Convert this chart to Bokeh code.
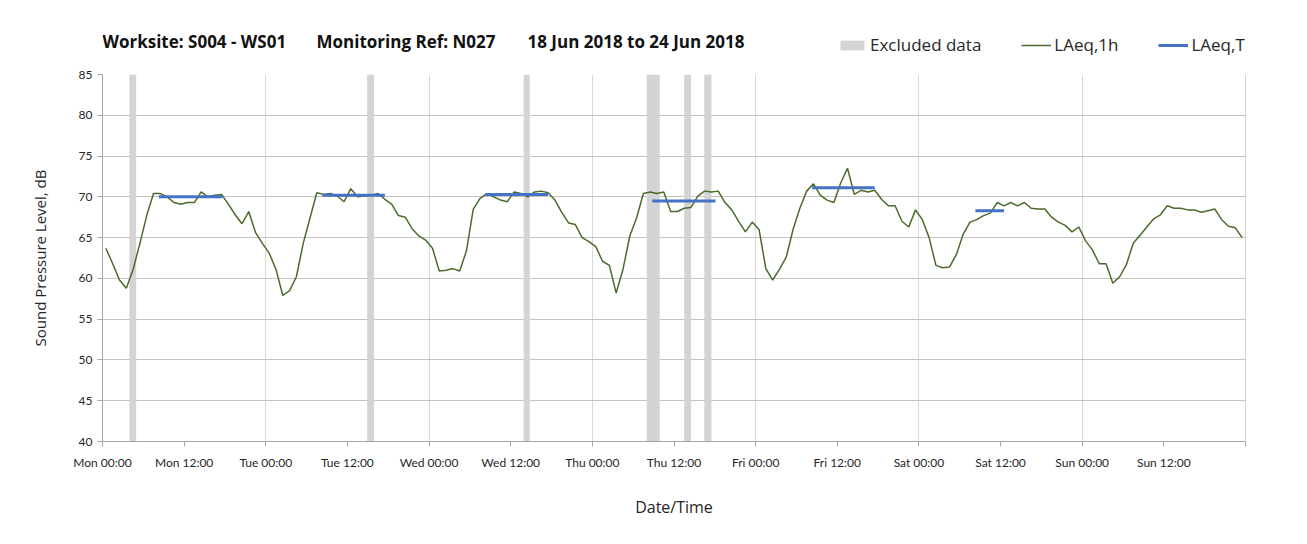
import numpy as np
from bokeh.plotting import figure
from bokeh.layouts import column
from bokeh.models import FixedTicker, Label, Legend, LegendItem, Span
from bokeh.embed import file_html
from bokeh.resources import INLINE

# ---------------- data ----------------
mon = [63.7, 61.8, 59.8, 58.8, 61.1, 64.3, 67.7, 70.4, 70.4, 70.0, 69.3, 69.1,
       69.3, 69.3, 70.6, 70.0, 70.2, 70.3, 69.1, 67.8, 66.7, 68.2, 65.6, 64.3]
tue = [63.1, 61.1, 57.9, 58.5, 60.2, 64.3, 67.4, 70.5, 70.3, 70.4, 70.1, 69.4,
       71.0, 70.0, 70.1, 70.2, 70.4, 69.7, 69.1, 67.7, 67.5, 66.1, 65.2, 64.7]
wed = [63.7, 60.9, 61.0, 61.2, 60.9, 63.4, 68.5, 69.8, 70.4, 70.0, 69.6, 69.4,
       70.6, 70.4, 70.0, 70.6, 70.7, 70.5, 69.6, 68.1, 66.8, 66.6, 65.0, 64.5]
thu = [63.9, 62.1, 61.6, 58.2, 61.1, 65.2, 67.4, 70.4, 70.6, 70.4, 70.6, 68.2,
       68.2, 68.6, 68.7, 70.1, 70.7, 70.6, 70.7, 69.3, 68.4, 67.0, 65.7, 66.9]
fri = [66.0, 61.2, 59.8, 61.1, 62.6, 66.0, 68.6, 70.7, 71.6, 70.2, 69.6, 69.3,
       71.7, 73.5, 70.3, 70.8, 70.6, 70.8, 69.7, 68.9, 68.9, 67.0, 66.3, 68.4]
sat = [67.2, 65.0, 61.6, 61.3, 61.4, 62.9, 65.4, 66.9, 67.2, 67.7, 68.0, 69.3,
       68.9, 69.3, 68.9, 69.3, 68.6, 68.5, 68.5, 67.5, 66.9, 66.5, 65.7, 66.3]
sun = [64.6, 63.5, 61.8, 61.8, 59.4, 60.2, 61.7, 64.3, 65.3, 66.3, 67.3, 67.8,
       68.9, 68.6, 68.6, 68.4, 68.4, 68.1, 68.3, 68.5, 67.2, 66.4, 66.2, 65.0]
laeq_1h = mon + tue + wed + thu + fri + sat + sun
hour_centres = np.arange(len(laeq_1h)) + 0.5   # hours since Mon 00:00

# LAeq,T periods (hours since Mon 00:00)
laeq_t_start = [8.3, 32.3, 56.3, 80.8, 104.3, 128.3]
laeq_t_end = [17.6, 41.5, 65.5, 90.1, 113.5, 132.5]
laeq_t_level = [70.0, 70.2, 70.3, 69.5, 71.1, 68.3]

# Excluded data periods (hours since Mon 00:00)
excl_start = [3.95, 38.9, 61.9, 80.0, 85.5, 88.45]
excl_end = [4.95, 39.9, 62.8, 81.9, 86.5, 89.5]

tick_hours = list(range(0, 169, 12))
tick_labels = ["Mon 00:00", "Mon 12:00", "Tue 00:00", "Tue 12:00", "Wed 00:00",
               "Wed 12:00", "Thu 00:00", "Thu 12:00", "Fri 00:00", "Fri 12:00",
               "Sat 00:00", "Sat 12:00", "Sun 00:00", "Sun 12:00", ""]
y_ticks = list(range(40, 86, 5))

title_parts = ["Worksite: S004 - WS01", "Monitoring Ref: N027",
               "18 Jun 2018 to 24 Jun 2018"]
legend_labels = ["Excluded data", "LAeq,1h", "LAeq,T"]

FONT = "Lato"
FONT2 = "Open Sans"
TXT = "#262626"
GREY = "#D4D4D4"
GREEN = "#4B6B2C"
BLUE = "#4472C4"
W = 1300
TOP_H = 66

# ---------------- header (title + legend) ----------------
top = figure(width=W, height=TOP_H, output_backend="svg", toolbar_location=None,
             x_axis_type=None, y_axis_type=None, x_range=(0, 1), y_range=(0, 1),
             min_border=0, min_border_left=102, min_border_right=W - 1245)
top.outline_line_color = None
top.xgrid.visible = False
top.ygrid.visible = False

for xs, txt in zip([0, 214, 425], title_parts):
    top.add_layout(Label(x=xs, y=25, x_units="screen", y_units="screen",
                         text=txt, text_font=FONT2, text_font_style="bold",
                         text_font_size="17px", text_color="#111111",
                         text_baseline="alphabetic"))

# swatch renderers for the legend (kept outside the visible range)
d_excl = top.quad(left=[5], right=[6], bottom=[5], top=[6], fill_color=GREY, line_color=None)
d_1h = top.line([5, 6], [5, 6], line_color=GREEN, line_width=1.5)
d_t = top.line([5, 6], [5, 6], line_color=BLUE, line_width=3)
legend = Legend(items=[LegendItem(label=legend_labels[0], renderers=[d_excl]),
                       LegendItem(label=legend_labels[1], renderers=[d_1h]),
                       LegendItem(label=legend_labels[2], renderers=[d_t])],
                orientation="horizontal", location=(735, 10))
legend.glyph_width = 30
legend.glyph_height = 12
legend.label_standoff = 3
legend.spacing = 40
legend.padding = 0
legend.margin = 0
legend.border_line_color = None
legend.background_fill_alpha = 0
legend.label_text_font = FONT2
legend.label_text_font_size = "17px"
legend.label_text_color = TXT
top.add_layout(legend, "center")

# ---------------- main chart ----------------
p = figure(width=W, height=474, output_backend="svg", toolbar_location=None,
           x_range=(0, 168), y_range=(40, 85),
           min_border_left=102, min_border_right=W - 1245, min_border_top=8,
           min_border_bottom=99)
p.outline_line_color = None

p.quad(left=excl_start, right=excl_end, bottom=40, top=85,
       fill_color=GREY, line_color=None)
p.line(hour_centres, laeq_1h, line_color=GREEN, line_width=1.5)
p.segment(x0=laeq_t_start, y0=laeq_t_level, x1=laeq_t_end, y1=laeq_t_level,
          line_color=BLUE, line_width=3)

p.add_layout(Span(location=168, dimension="height", line_color="#A6A6A6", line_width=1))

p.xaxis.ticker = FixedTicker(ticks=tick_hours)
p.xaxis.major_label_overrides = {h: lab for h, lab in zip(tick_hours, tick_labels)}
p.yaxis.ticker = FixedTicker(ticks=y_ticks)
p.xgrid.ticker = FixedTicker(ticks=list(range(0, 169, 24)))
p.xgrid.grid_line_color = "#D9D9D9"
p.ygrid.grid_line_color = "#C4C4C4"
for ax in (p.xaxis[0], p.yaxis[0]):
    ax.axis_line_color = "#A6A6A6"
    ax.major_tick_line_color = "#A6A6A6"
    ax.minor_tick_line_color = None
    ax.major_tick_in = 0
    ax.major_tick_out = 5
    ax.major_label_text_font = FONT
    ax.major_label_text_font_size = "12px"
    ax.major_label_text_color = TXT
    ax.axis_label_text_font = FONT2
    ax.axis_label_text_font_style = "normal"
    ax.axis_label_text_color = TXT
p.xaxis.axis_label = "Date/Time"
p.xaxis.axis_label_text_font_size = "16px"
p.yaxis.axis_label = "Sound Pressure Level, dB"
p.yaxis.axis_label_text_font_size = "15px"
p.xaxis.major_label_standoff = 8
p.xaxis.axis_label_standoff = 23
p.yaxis.major_label_standoff = 5
p.yaxis.axis_label_standoff = 26

layout = column(top, p, spacing=0)
open("out.html", "w").write(file_html(layout, INLINE))
